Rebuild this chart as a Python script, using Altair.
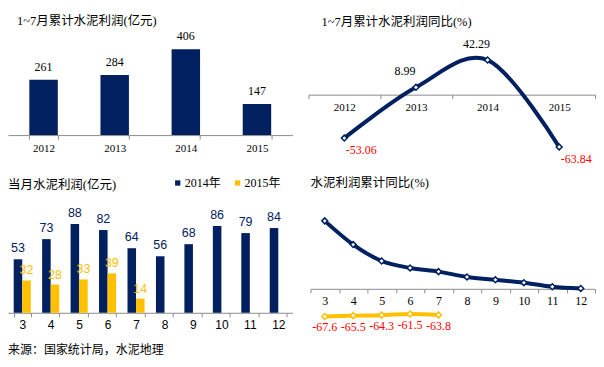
import altair as alt
import pandas as pd

# ---------------- data ----------------
years = ['2012', '2013', '2014', '2015']
profit_cum = [261, 284, 406, 147]
yoy_cum = [-53.06, 8.99, 42.29, -63.84]

months = [3, 4, 5, 6, 7, 8, 9, 10, 11, 12]
monthly_2014 = [53, 73, 88, 82, 64, 56, 68, 86, 79, 84]
months_2015 = [3, 4, 5, 6, 7]
monthly_2015 = [32, 28, 33, 39, 14]

cum_yoy_2014 = [166, 108, 68, 51, 42, 29, 22, 15, 5, 1]
cum_yoy_2015 = [-67.6, -65.5, -64.3, -61.5, -63.8]

series = ['2014年', '2015年']
title1 = '1~7月累计水泥利润(亿元)'
title2 = '1~7月累计水泥利润同比(%)'
title3 = '当月水泥利润(亿元)'
title4 = '水泥利润累计同比(%)'
source = '来源：国家统计局，水泥地理'

# ---------------- style ----------------
NAVY = '#002060'
YELLOW = '#FFC000'
RED = '#FF0000'
SERIF = 'Liberation Serif, Noto Sans CJK SC'
SANS = 'Liberation Sans Narrow, Liberation Sans, Noto Sans CJK SC'
CJK = 'Noto Sans CJK SC'


def xaxis(offset, font=SERIF, size=11):
    return alt.Axis(title=None, offset=offset, domainColor='#8c8c8c', tickColor='#8c8c8c',
                    tickSize=4, tickBand='extent', labelAngle=0, labelFont=font,
                    labelFontSize=size, labelColor='black', labelPadding=3, grid=False)


def title_layer(text, x, y, font=SERIF, size=12.5):
    return alt.Chart(pd.DataFrame({'t': [text]})).mark_text(
        align='left', baseline='middle', font=font, fontSize=size, color='black'
    ).encode(x=alt.value(x), y=alt.value(y), text='t:N')


# ---------------- panel 1 ----------------
W1, H = 285, 160
df1 = pd.DataFrame({'year': years, 'v': profit_cum})
x1 = alt.X('year:N', sort=years,
           scale=alt.Scale(type='band', paddingInner=0.6, paddingOuter=0.3),
           axis=xaxis(-33))
y1 = alt.Y('v:Q', scale=alt.Scale(domain=[-155.7, 599], nice=False, zero=False), axis=None)
b1 = alt.Chart(df1).mark_bar(color=NAVY).encode(x=x1, y=y1)
t1 = alt.Chart(df1).mark_text(dy=-13, font=SERIF, fontSize=12, color='black').encode(
    x=x1, y=y1, text='v:Q')
p1 = alt.layer(b1, t1, title_layer(title1, 9, 13)).properties(width=W1, height=H)

# ---------------- panel 2 ----------------
W2 = 287
df2 = pd.DataFrame({'year': years, 'v': yoy_cum})
x2 = alt.X('year:N', sort=years,
           scale=alt.Scale(type='band', paddingInner=0, paddingOuter=0),
           axis=xaxis(-73.5))
y2 = alt.Y('v:Q', scale=alt.Scale(domain=[-89.6, 105.5], nice=False, zero=False), axis=None)
base2 = alt.Chart(df2).encode(x=x2, y=y2).transform_calculate(lab='toString(datum.v)')
l2 = base2.mark_line(color=NAVY, strokeWidth=4, interpolate='cardinal')
pt2 = base2.mark_point(shape='diamond', filled=True, fill='white', stroke=NAVY,
                       strokeWidth=1.5, size=35, opacity=1)
pos2 = base2.transform_filter('datum.v > 0').mark_text(
    dx=-11, dy=-16, font=SERIF, fontSize=12, color='black').encode(text='lab:N')
neg2 = base2.transform_filter('datum.v < 0').mark_text(
    dx=17, dy=12, font=SERIF, fontSize=12, color=RED).encode(text='lab:N')
p2 = alt.layer(l2, pt2, pos2, neg2, title_layer(title2, 13, 14)).properties(width=W2, height=H)

# ---------------- panel 3 ----------------
W3, H2 = 285, 182
df3 = pd.DataFrame({'month': months + months_2015,
                    'v': monthly_2014 + monthly_2015,
                    's': [series[0]] * len(months) + [series[1]] * len(months_2015)})
x3 = alt.X('month:O', scale=alt.Scale(type='band', domain=months, paddingInner=0.4, paddingOuter=0.2),
           axis=xaxis(-45, SANS, 12))
xo3 = alt.XOffset('s:N', scale=alt.Scale(domain=series, paddingInner=0, paddingOuter=0))
y3 = alt.Y('v:Q', scale=alt.Scale(domain=[-44.6, 135.6], nice=False, zero=False), axis=None)
c3 = alt.Color('s:N', scale=alt.Scale(domain=series, range=[NAVY, YELLOW]),
               legend=alt.Legend(orient='none', legendX=164, legendY=1, direction='horizontal',
                                 title=None, symbolType='square', symbolSize=28,
                                 symbolStrokeWidth=0, labelFont=SERIF, labelFontSize=12,
                                 labelOffset=1, columnPadding=10, labelColor='black'))
b3 = alt.Chart(df3).mark_bar().encode(x=x3, xOffset=xo3, y=y3, color=c3)
n3 = alt.Chart(df3).transform_filter(alt.datum.s == series[0]).mark_text(
    dy=-11, font=SANS, fontSize=12.5, color=NAVY).encode(x=x3, xOffset=xo3, y=y3, text='v:Q')
o3 = alt.Chart(df3).transform_filter(alt.datum.s == series[1]).mark_text(
    dy=-10, font=SANS, fontSize=12.5, color=YELLOW).encode(x=x3, xOffset=xo3, y=y3, text='v:Q')
p3 = alt.layer(b3, n3, o3, title_layer(title3, 0, 9),
               title_layer(source, 0, 174, CJK, 12)).properties(width=W3, height=H2)

# ---------------- panel 4 ----------------
W4 = 285
df4 = pd.DataFrame({'month': months + months_2015,
                    'v': cum_yoy_2014 + cum_yoy_2015,
                    's': [series[0]] * len(months) + [series[1]] * len(months_2015)})
x4 = alt.X('month:O', scale=alt.Scale(type='band', domain=months, paddingInner=0, paddingOuter=0),
           axis=xaxis(-69, SERIF, 12))
y4 = alt.Y('v:Q', scale=alt.Scale(domain=[-168.3, 275.6], nice=False, zero=False), axis=None)
c4 = alt.Color('s:N', scale=alt.Scale(domain=series, range=[NAVY, YELLOW]),
               legend=alt.Legend(orient='none', legendX=143, legendY=0, direction='horizontal',
                                 title=None, symbolType='stroke', symbolSize=900,
                                 symbolStrokeWidth=4, labelFont=SERIF, labelFontSize=12,
                                 labelOffset=1, columnPadding=6, labelColor='black'))
base4 = alt.Chart(df4).encode(x=x4, y=y4)
l4 = base4.mark_line(strokeWidth=4, interpolate='cardinal').encode(color=c4)
pt4 = base4.mark_point(shape='diamond', filled=True, fill='white', strokeWidth=1.5,
                       size=35, opacity=1).encode(
    stroke=alt.Stroke('s:N', scale=alt.Scale(domain=series, range=[NAVY, YELLOW]), legend=None))
r4 = base4.transform_filter(alt.datum.s == series[1]).transform_calculate(
    lab='toString(datum.v)').mark_text(
    dy=11, font=SERIF, fontSize=12, color=RED).encode(text='lab:N')
p4 = alt.layer(l4, pt4, r4, title_layer(title4, 0, 7)).properties(width=W4, height=H2)

# ---------------- assemble ----------------
row1 = alt.hconcat(p1, p2, spacing=15)
row2 = alt.hconcat(p3, p4, spacing=17)
chart = alt.vconcat(row1, row2, spacing=8).properties(
    padding=0, background='white'
).configure_view(stroke=None).resolve_scale(color='independent', stroke='independent')

chart.save("out.html", embed_options={"renderer": "svg", "actions": False})
